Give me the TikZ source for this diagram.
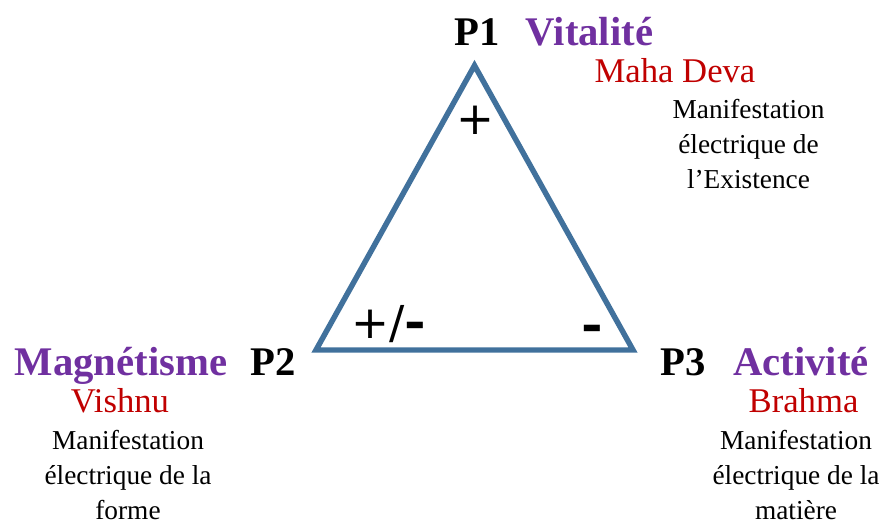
\documentclass[tikz,border=0pt]{standalone}
\usepackage{fontspec}
\setmainfont{Liberation Serif}
\newfontfamily\signfont{DejaVu Sans}
\definecolor{triblue}{HTML}{41719C}
\definecolor{labpurple}{HTML}{7030A0}
\definecolor{labred}{HTML}{C00000}
\newcommand{\thickdash}{{\bfseries\scalebox{1.15}[1]{-}}}
\tikzset{
  pt/.style={inner sep=0pt, anchor=base, font=\fontsize{30.5}{36}\selectfont\bfseries, text=black},
  force/.style={inner sep=0pt, anchor=base, font=\fontsize{30.5}{36}\selectfont\bfseries, text=labpurple},
  deity/.style={inner sep=0pt, anchor=base, font=\fontsize{26}{30}\selectfont, text=labred},
  desc/.style={inner sep=0pt, anchor=north, align=center, font=\fontsize{20.5}{26.2}\selectfont, text=black},
  sign/.style={inner sep=0pt, anchor=base, font=\fontsize{34}{40}\signfont, text=black},
  tri/.style={draw=triblue, line width=4.1pt, line join=miter}
}
\begin{document}
\begin{tikzpicture}[x=0.75pt, y=-0.75pt]
\useasboundingbox (0,0) rectangle (886,525);
% triangle
\coordinate (v1) at (474.5,65.5);
\coordinate (v2) at (316,350);
\coordinate (v3) at (633,350);
\draw[tri] (v1) -- (v2) -- (v3) -- cycle;
% signs
\node[sign] (s1) at (475,134) {+};
\node[sign] (s2) at (389,338) {+/\thickdash};
\node[sign] (s3) at (592.5,341) {\thickdash};
% P1
\node[pt] (p1) at (477.5,45) {P1};
\node[force] (f1) at (589.5,45) {Vitalité};
\node[deity] (d1) at (675,82) {Maha Deva};
\node[desc] (m1) at (748.5,99) {Manifestation\\électrique de\\l’Existence};
% P2
\node[pt] (p2) at (273,375) {P2};
\node[force] (f2) at (121,375) {Magnétisme};
\node[deity] (d2) at (120,412) {Vishnu};
\node[desc] (m2) at (128,430) {Manifestation\\électrique de la\\forme};
% P3
\node[pt] (p3) at (683,375) {P3};
\node[force] (f3) at (801,375) {Activité};
\node[deity] (d3) at (803.5,412) {Brahma};
\node[desc] (m3) at (796,430) {Manifestation\\électrique de la\\matière};
\end{tikzpicture}
\end{document}
